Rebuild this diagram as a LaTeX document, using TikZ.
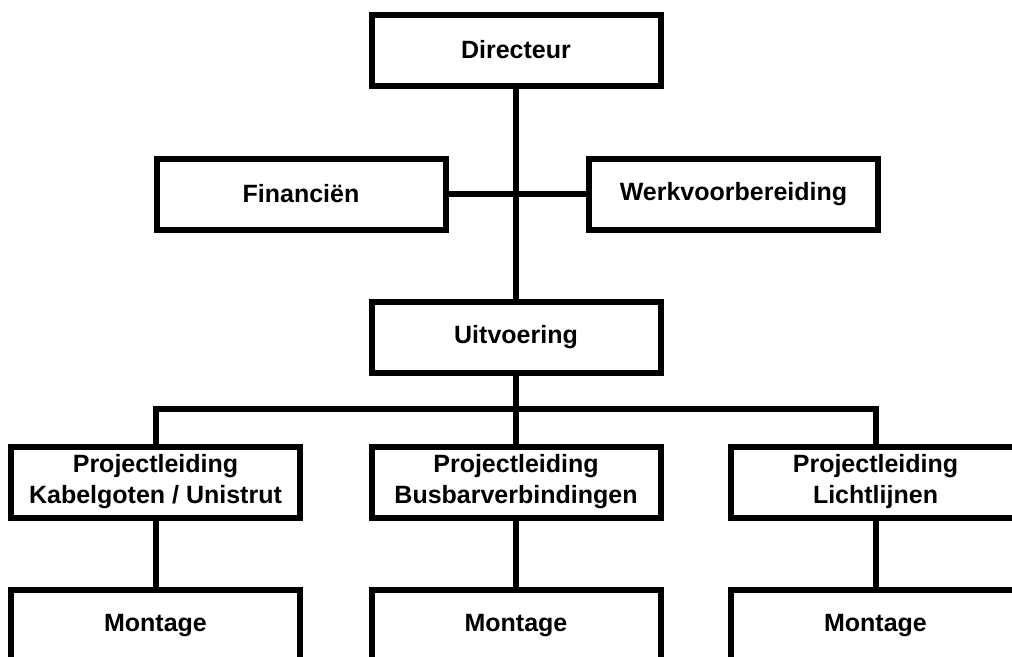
\documentclass[tikz,border=0pt]{standalone}
\usepackage{fontspec}
\setmainfont{Liberation Sans}
\usetikzlibrary{positioning}

\begin{document}
\begin{tikzpicture}[x=1pt,y=-1pt,
        unit/.style={draw, line width=6pt, minimum width=289pt, minimum height=71pt, inner sep=0pt, align=center, font=\fontsize{25}{31}\selectfont\bfseries},
        link/.style={line width=6pt}]
        \useasboundingbox (0,0) rectangle (1012,656);

        % top of the chart
        \node[unit] (dir) at (516,50) {Directeur};
        \node[unit] (fin) at (301,194) {Financiën};
        \node[unit] (werk) at (733.5,194) {Werkvoorbereiding};
        \node[unit] (uit) at (516,337.5) {Uitvoering};

        % project leaders
        \node[unit] (pl1) at (155.5,482) {Projectleiding\\Kabelgoten / Unistrut};
        \node[unit] (pl2) at (516,482) {Projectleiding\\Busbarverbindingen};
        \node[unit] (pl3) at (875.5,482) {Projectleiding\\Lichtlijnen};

        % assembly
        \node[unit] (mon1) at (155.5,625.5) {Montage};
        \node[unit] (mon2) at (516,625.5) {Montage};
        \node[unit] (mon3) at (875.5,625.5) {Montage};

        % connections
        \draw[link] (dir.south) -- (uit.north);
        \draw[link] (fin.east) -- (werk.west);
        \draw[link] (uit.south) -- (pl2.north);
        \coordinate (bus) at (516,409);
        \draw[link] (pl1.north) |- (bus) -| (pl3.north);
        \draw[link] (pl1.south) -- (mon1.north);
        \draw[link] (pl2.south) -- (mon2.north);
        \draw[link] (pl3.south) -- (mon3.north);
    \end{tikzpicture}
\end{document}
